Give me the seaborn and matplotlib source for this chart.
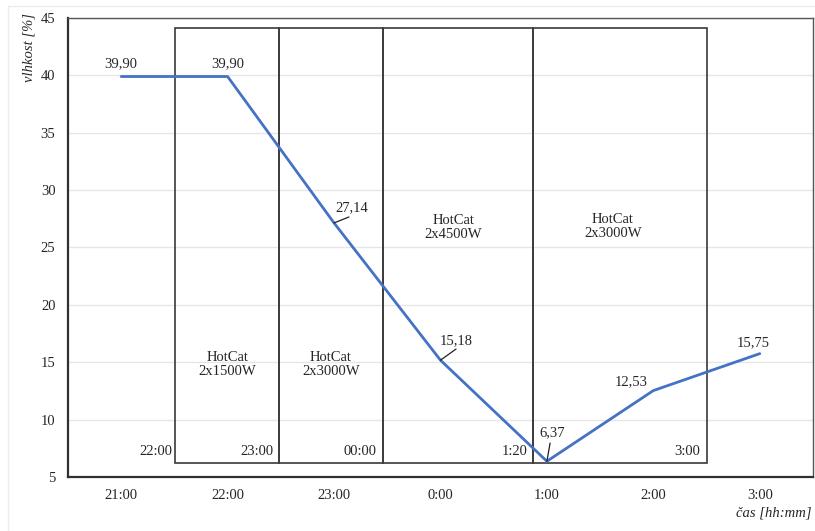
import matplotlib
matplotlib.use("Agg")
import matplotlib.pyplot as plt
from matplotlib.patches import Rectangle
import seaborn as sns
import pandas as pd

# Data
times = ["21:00", "22:00", "23:00", "0:00", "1:00", "2:00", "3:00"]
moisture = [39.90, 39.90, 27.14, 15.18, 6.37, 12.53, 15.75]
value_labels = ["39,90", "39,90", "27,14", "15,18", "6,37", "12,53", "15,75"]

# heating phases (start, end in category units) and their labels
phase_edges = [0.505, 1.48, 2.46, 3.87, 5.505]
phase_names = ["HotCat\n2x1500W", "HotCat\n2x3000W", "HotCat\n2x4500W", "HotCat\n2x3000W"]
phase_times = ["22:00", "23:00", "00:00", "1:20", "3:00"]

df = pd.DataFrame({"cas": times, "vlhkost": moisture})

sns.set_style("white")
plt.rcParams["font.family"] = ["Liberation Serif", "DejaVu Serif"]
plt.rcParams["font.size"] = 10.5

fig = plt.figure(figsize=(8.15, 5.31), dpi=100)
ax = fig.add_axes([0.0834, 0.1017, 0.9141, 0.8644])

# faint outer chart border
fig.patches.append(Rectangle((0.01, -0.01), 1.0, 0.998, transform=fig.transFigure,
                             fill=False, edgecolor="#ececec", lw=1.0))

sns.lineplot(data=df, x="cas", y="vlhkost", color="#4472C4", linewidth=2.0,
             sort=False, ax=ax, zorder=5)

ax.set_xlim(-0.5, 6.5)
ax.set_ylim(5, 45)
ax.set_yticks(range(5, 46, 5))
ax.yaxis.grid(True, color="#e6e6e6", linewidth=1.0)
ax.set_axisbelow(True)

# category boundaries carry the tick marks, labels sit in the middle
ax.set_xticks([i - 0.5 for i in range(len(times) + 1)])
ax.set_xticklabels([])
ax.set_xticks(range(len(times)), minor=True)
ax.set_xticklabels(times, minor=True)
ax.tick_params(axis="x", which="major", direction="out", length=5, width=1.2, color="#404040")
ax.tick_params(axis="x", which="minor", length=0, pad=9, labelsize=10.5)
ax.tick_params(axis="y", direction="out", length=5, width=1.2, color="#404040", pad=4, labelsize=10.5)
ax.set_xlabel("")
ax.set_ylabel("")

for side in ["left", "bottom"]:
    ax.spines[side].set_color("#303030")
    ax.spines[side].set_linewidth(1.6)
for side in ["top", "right"]:
    ax.spines[side].set_visible(True)
    ax.spines[side].set_color("#555555")
    ax.spines[side].set_linewidth(1.0)

# phase boxes
box_bottom, box_top = 6.22, 44.13
for i in range(len(phase_names)):
    x0, x1 = phase_edges[i], phase_edges[i + 1]
    ax.add_patch(Rectangle((x0, box_bottom), x1 - x0, box_top - box_bottom,
                           fill=False, edgecolor="#3a3a3a", lw=1.2, zorder=3))
name_pos = [(1.0, 14.8), (1.97, 14.8), (3.12, 26.7), (4.62, 26.8)]
for (x, y), name in zip(name_pos, phase_names):
    ax.text(x, y, name, ha="center", va="center", fontsize=10.5, linespacing=1.1, zorder=4)
time_x = [0.48, 1.43, 2.40, 3.82, 5.44]
for x, t in zip(time_x, phase_times):
    ax.text(x, 7.2, t, ha="right", va="center", fontsize=10.5, zorder=4)

# value labels
label_pos = [(0, 41.0), (1, 41.0), (2.17, 28.45), (3.15, 16.85), (4.05, 8.85), (4.79, 13.28), (5.94, 16.68)]
for (x, y), lab in zip(label_pos, value_labels):
    ax.text(x, y, lab, ha="center", va="center", fontsize=10.5, zorder=6)
leaders = [(2, 2.14, 27.66), (3, 3.146, 16.15), (4, 4.03, 7.96)]
for i, lx, ly in leaders:
    ax.plot([i, lx], [moisture[i], ly], color="#202020", lw=0.9, zorder=6)

fig.text(0.036, 0.975, "vlhkost [%]", rotation=90, ha="center", va="top",
         style="italic", fontsize=10.5)
fig.text(0.996, 0.034, "čas [hh:mm]", ha="right", va="center",
         style="italic", fontsize=10.5)

fig.savefig("out.png", dpi=100)
